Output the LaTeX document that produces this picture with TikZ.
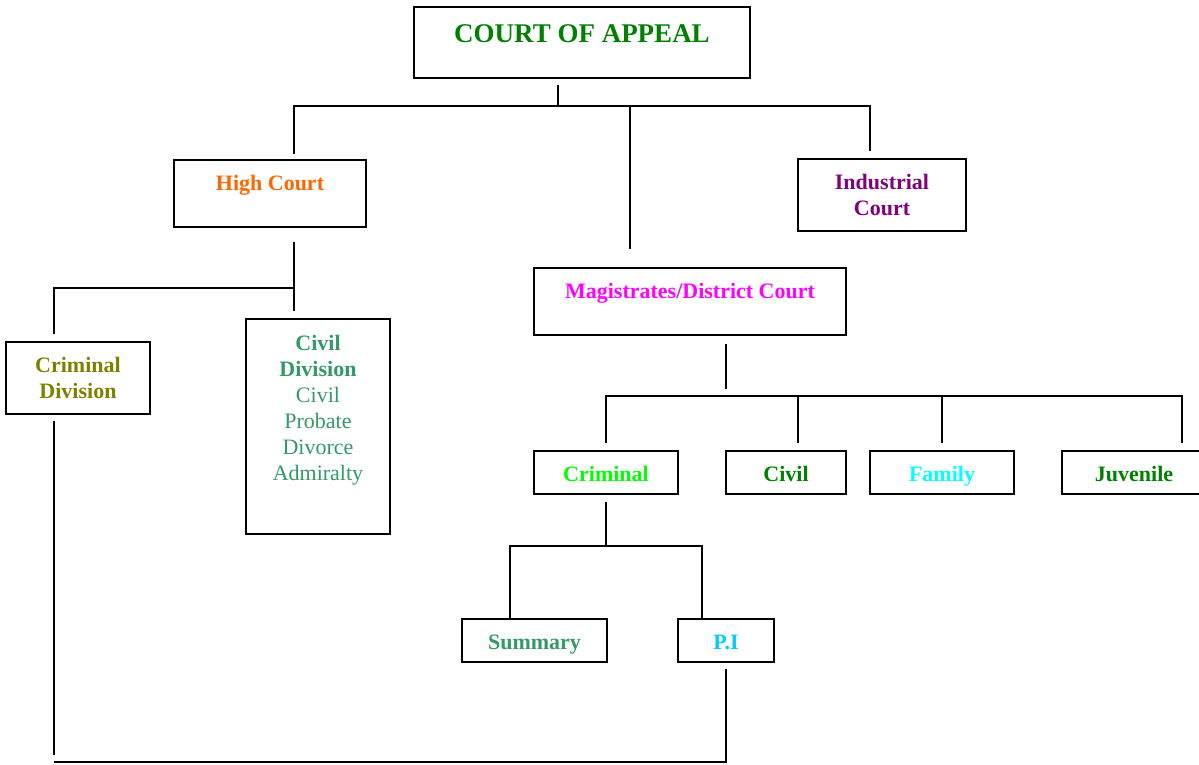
\documentclass[tikz,border=0pt]{standalone}
\usepackage{fontspec}
\setmainfont{Liberation Serif}
\definecolor{cgreen}{RGB}{0,128,0}
\definecolor{corange}{RGB}{255,102,0}
\definecolor{cpurple}{RGB}{128,0,128}
\definecolor{colive}{RGB}{128,128,0}
\definecolor{cseagreen}{RGB}{51,153,102}
\definecolor{cmagenta}{RGB}{255,0,255}
\definecolor{clime}{RGB}{0,255,0}
\definecolor{ccyan}{RGB}{0,255,255}
\definecolor{csky}{RGB}{0,204,255}
\begin{document}
\begin{tikzpicture}[x=1pt,y=-1pt,
  box/.style={draw=black, line width=2pt, rectangle, inner sep=0pt,
    font=\fontsize{22}{26}\selectfont\bfseries, align=center},
  toptext/.style={anchor=north, text height=30pt, text depth=37pt},
  lowtext/.style={anchor=north, text height=30pt, text depth=13pt},
  conn/.style={line width=2pt},
]
\useasboundingbox (0,0) rectangle (1199,764);

% nodes
\node[box, anchor=north, minimum width=336pt, text height=35pt, text depth=36pt,
  font=\fontsize{27}{30}\selectfont\bfseries, text=cgreen] (coa) at (582,6) {COURT OF APPEAL};
\node[box, toptext, minimum width=192pt, text=corange] (hc) at (270,159) {High Court};
\node[box, minimum width=168pt, minimum height=72pt, text=cpurple] (ic) at (882,195) {Industrial\\Court};
\node[box, toptext, minimum width=312pt, text=cmagenta] (mag) at (690,267) {Magistrates/District Court};
\node[box, minimum width=144pt, minimum height=72pt, text=colive] (cd) at (78,378) {Criminal\\Division};
\node[box, anchor=north, text=cseagreen] (civ) at (318,318)
  {\parbox[c][215pt][t]{144pt}{\centering\vspace*{16pt}Civil\\Division\\\mdseries Civil\\Probate\\Divorce\\Admiralty}};
\node[box, lowtext, minimum width=144pt, text=clime] (crim) at (606,450) {Criminal};
\node[box, lowtext, minimum width=120pt, text=cgreen] (civb) at (786,450) {Civil};
\node[box, lowtext, minimum width=144pt, text=ccyan] (fam) at (942,450) {Family};
\node[box, lowtext, minimum width=144pt, text=cgreen] (juv) at (1134,450) {Juvenile};
\node[box, lowtext, minimum width=145pt, text=cseagreen] (sum) at (534.5,618) {Summary};
\node[box, lowtext, minimum width=96pt, text=csky] (pi) at (726,618) {P.I};

% junction coordinates
\coordinate (j1) at (558,106);
\coordinate (a1) at (294,106);
\coordinate (a2) at (630,106);
\coordinate (a3) at (870,106);
\coordinate (b1) at (54,288);
\coordinate (b2) at (294,288);
\coordinate (c1) at (54,762);
\coordinate (c2) at (726,762);
\coordinate (d0) at (726,396);
\coordinate (d1) at (606,396);
\coordinate (d2) at (798,396);
\coordinate (d3) at (942,396);
\coordinate (d4) at (1182,396);
\coordinate (e0) at (606,546);
\coordinate (e1) at (510,546);
\coordinate (e2) at (702,546);

% connectors
\draw[conn, shorten <=6pt] (coa.south -| j1) -- (j1);
\draw[conn, shorten <=5pt, shorten >=7pt] (a1 |- hc.north) -- (a1) -- (a3) -- (a3 |- ic.north);
\draw[conn, shorten >=18pt] (a2) -- (a2 |- mag.north);

\draw[conn, shorten <=14pt, shorten >=7pt] (hc.south -| b2) -- (b2 |- civ.north);
\draw[conn, shorten >=7pt] (b2) -- (b1) -- (b1 |- cd.north);

\draw[conn, shorten <=6pt, shorten >=7pt] (cd.south -| c1) -- (c1);
\draw[conn, shorten >=6pt] (c1) -- (c2) -- (pi.south);

\draw[conn, shorten <=8pt, shorten >=7pt] (mag.south -| d0) -- (d0);
\draw[conn, shorten <=7pt, shorten >=7pt] (d1 |- crim.north) -- (d1) -- (d4) -- (d4 |- juv.north);
\draw[conn, shorten >=7pt] (d2) -- (d2 |- civb.north);
\draw[conn, shorten >=7pt] (d3) -- (d3 |- fam.north);

\draw[conn, shorten <=7pt] (crim.south) -- (e0);
\draw[conn] (e1 |- sum.north) -- (e1) -- (e2) -- (e2 |- pi.north);
\end{tikzpicture}
\end{document}
